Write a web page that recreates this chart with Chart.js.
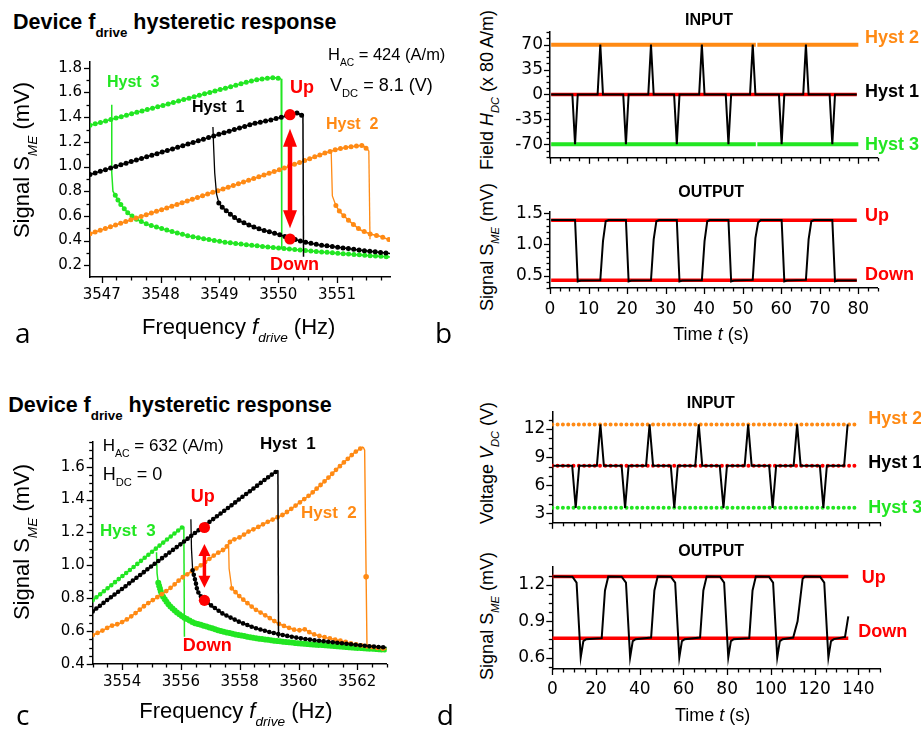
<!DOCTYPE html>
<html>
<head>
<meta charset="utf-8">
<script src="https://cdn.jsdelivr.net/npm/chart.js@4.4.1/dist/chart.umd.min.js"></script>
<style>
  body { margin: 0; width: 921px; height: 730px; background: #fff; position: relative; overflow: hidden;
         font-family: 'Liberation Sans', Arial, sans-serif; }
  canvas { position: absolute; }
  .t { position: absolute; white-space: pre; line-height: 1; color: #000; }
  .t.b { font-weight: bold; }
  .t sub { font-size: 0.62em; vertical-align: -0.58em; line-height: 0; }
  .t.rot { transform-origin: 0 0; transform: rotate(-90deg) translateX(-50%); }
  .t.letter { font-family: 'Open Sans', sans-serif; }
</style>
</head>
<body>
<canvas id="chartA"></canvas>
<canvas id="chartBin"></canvas>
<canvas id="chartBout"></canvas>
<canvas id="chartC"></canvas>
<canvas id="chartDin"></canvas>
<canvas id="chartDout"></canvas>
<script>
// ---------- panel a : frequency sweep, H_AC = 424 A/m ----------
const aHyst3UpF = [3546.8, 3547.0, 3547.2, 3547.4, 3547.6, 3547.8, 3548.0, 3548.2, 3548.4, 3548.6, 3548.8, 3549.0, 3549.2, 3549.4, 3549.6, 3549.8, 3549.95, 3550.05];
const aHyst3UpS = [1.335, 1.36, 1.387, 1.413, 1.44, 1.465, 1.49, 1.517, 1.543, 1.57, 1.596, 1.622, 1.648, 1.675, 1.70, 1.715, 1.72, 1.712];
const aHyst3DropF = [3550.05, 3550.06];
const aHyst3DropS = [1.712, 0.33];
const aHyst3JumpF = [3547.17, 3547.17, 3547.19, 3547.23];
const aHyst3JumpS = [1.50, 0.95, 0.80, 0.767];
const aHyst3LowF = [3547.23, 3547.31, 3547.45, 3547.6, 3547.8, 3548.0, 3548.2, 3548.5, 3548.8, 3549.1, 3549.5, 3550.0, 3550.5, 3551.0, 3551.5, 3551.9];
const aHyst3LowS = [0.767, 0.70, 0.62, 0.57, 0.527, 0.50, 0.472, 0.435, 0.41, 0.387, 0.364, 0.34, 0.318, 0.298, 0.28, 0.268];

const aHyst1UpF = [3546.8, 3547.2, 3547.6, 3548.0, 3548.4, 3548.8, 3549.2, 3549.6, 3549.9, 3550.2, 3550.33, 3550.42];
const aHyst1UpS = [0.935, 0.995, 1.055, 1.113, 1.172, 1.232, 1.292, 1.35, 1.38, 1.42, 1.435, 1.408];
const aHyst1DropF = [3550.42, 3550.43];
const aHyst1DropS = [1.408, 0.27];
const aHyst1JumpF = [3548.89, 3548.9, 3548.92, 3548.95, 3548.99];
const aHyst1JumpS = [1.32, 1.18, 0.95, 0.78, 0.705];
const aHyst1LowF = [3548.99, 3549.05, 3549.14, 3549.3, 3549.48, 3549.7, 3550.0, 3550.2, 3550.42, 3550.7, 3551.05, 3551.4, 3551.9];
const aHyst1LowS = [0.705, 0.67, 0.632, 0.57, 0.53, 0.49, 0.452, 0.42, 0.39, 0.365, 0.344, 0.322, 0.295];

const aHyst2UpF = [3546.8, 3547.2, 3547.6, 3548.0, 3548.4, 3548.8, 3549.2, 3549.6, 3550.0, 3550.4, 3550.8, 3551.0, 3551.2, 3551.44, 3551.54];
const aHyst2UpS = [0.455, 0.52, 0.585, 0.648, 0.712, 0.777, 0.84, 0.905, 0.97, 1.04, 1.11, 1.14, 1.158, 1.172, 1.128];
const aHyst2DropF = [3551.54, 3551.56];
const aHyst2DropS = [1.128, 0.41];
const aHyst2JumpF = [3550.9, 3550.92, 3550.98];
const aHyst2JumpS = [1.128, 0.762, 0.684];
const aHyst2LowF = [3550.98, 3551.05, 3551.22, 3551.39, 3551.56, 3551.73, 3551.9];
const aHyst2LowS = [0.684, 0.631, 0.553, 0.488, 0.453, 0.435, 0.405];

const aStateF = [3550.2, 3550.2];      // Up / Down operating points
const aStateS = [1.42, 0.413];

// ---------- panel b : field driven switching ----------
const bLevelT = [0.3, 53.4, 53.6, 53.8, 80];
const bHyst2Level = [70, 70, null, 70, 70];
const bHyst3Level = [-70, -70, null, -70, -70];
const bHyst1T = [0.3, 79.6];
const bHyst1Level = [0, 0];
const bInT = [0.3, 5.8, 6.5, 7.2, 12.35, 13.05, 13.75, 19.0, 19.7, 20.4, 25.5, 26.2, 26.9, 32.2, 32.9, 33.6, 38.7, 39.4, 40.1,
              45.6, 46.3, 47.0, 51.9, 52.6, 53.3, 59.4, 60.1, 60.8, 65.7, 66.4, 67.1, 72.55, 73.25, 73.95, 79.6];
const bInH = [0, 0, -70, 0, 0, 70, 0, 0, -70, 0, 0, 70, 0, 0, -70, 0, 0, 70, 0,
              0, -70, 0, 0, 70, 0, 0, -70, 0, 0, 70, 0, 0, -70, 0, 0];
const bOutT = [0.3, 6.5, 7.2, 8.0, 13.05, 13.75, 14.45, 15.2, 19.7, 20.4, 21.1, 26.2, 26.9, 27.6, 28.3, 32.9, 33.6, 34.3, 39.4, 40.1,
               40.8, 41.5, 46.3, 47.0, 47.7, 52.6, 53.3, 54.0, 54.7, 60.1, 60.8, 61.5, 66.4, 67.1, 67.8, 68.5, 73.25, 73.95, 74.6, 79.6];
const bOutS = [1.39, 1.39, 0.405, 0.42, 0.425, 1.05, 1.37, 1.39, 1.39, 0.405, 0.42, 0.425, 1.08, 1.37, 1.39, 1.39, 0.405, 0.42, 0.425, 1.05,
               1.37, 1.39, 1.39, 0.405, 0.42, 0.43, 1.10, 1.35, 1.39, 1.39, 0.405, 0.42, 0.43, 1.08, 1.37, 1.39, 1.39, 0.405, 0.42, 0.42];
const bStateT = [0.3, 79.6];
const bUpLevel = [1.387, 1.387];
const bDownLevel = [0.425, 0.425];

// ---------- panel c : frequency sweep, H_AC = 632 A/m ----------
const cHyst3UpF = [3553.0, 3553.5, 3554.0, 3554.5, 3555.0, 3555.5, 3556.0, 3556.08];
const cHyst3UpS = [0.787, 0.86, 0.933, 1.006, 1.08, 1.153, 1.225, 1.236];
const cHyst3DropF = [3556.1, 3556.12];
const cHyst3DropS = [1.236, 0.565];
const cHyst3JumpF = [3555.17, 3555.19, 3555.23];
const cHyst3JumpS = [1.08, 0.95, 0.894];
const cHyst3LowF = [3555.23, 3555.35, 3555.5, 3555.63, 3555.85, 3556.08, 3556.45, 3556.88, 3557.4, 3557.9, 3558.6, 3559.3, 3560.2, 3561.2, 3562.0, 3562.7, 3563.0];
const cHyst3LowS = [0.894, 0.82, 0.78, 0.752, 0.715, 0.685, 0.65, 0.627, 0.598, 0.578, 0.555, 0.539, 0.522, 0.51, 0.498, 0.49, 0.487];

const cHyst1UpF = [3553.0, 3553.5, 3554.0, 3554.5, 3555.0, 3555.5, 3556.0, 3556.5, 3557.0, 3557.5, 3558.0, 3558.5, 3559.0, 3559.3];
const cHyst1UpS = [0.72, 0.79, 0.857, 0.926, 0.995, 1.063, 1.13, 1.20, 1.268, 1.335, 1.404, 1.472, 1.54, 1.578];
const cHyst1DropF = [3559.3, 3559.32];
const cHyst1DropS = [1.578, 0.56];
const cHyst1JumpF = [3556.34, 3556.36, 3556.4];
const cHyst1JumpS = [1.28, 1.10, 0.97];
const cHyst1LowF = [3556.4, 3556.5, 3556.56, 3556.7, 3557.0, 3557.44, 3558.0, 3558.5, 3559.0, 3559.5, 3560.0, 3560.6, 3561.2, 3561.8, 3562.4, 3563.0];
const cHyst1LowS = [0.97, 0.90, 0.845, 0.805, 0.76, 0.704, 0.655, 0.62, 0.595, 0.575, 0.558, 0.543, 0.532, 0.52, 0.508, 0.50];

const cHyst2UpF = [3553.0, 3553.3, 3553.6, 3553.9, 3554.2, 3554.5, 3554.8, 3555.1, 3555.4, 3555.7, 3556.0, 3556.3, 3556.6, 3556.9, 3557.2, 3557.5, 3557.7,
                   3558.0, 3558.3, 3558.6, 3558.9, 3559.2, 3559.5, 3559.8, 3560.1, 3560.4, 3560.7, 3561.0, 3561.3, 3561.6, 3561.9, 3562.1, 3562.2];
const cHyst2UpS = [0.575, 0.60, 0.63, 0.645, 0.675, 0.715, 0.76, 0.795, 0.83, 0.87, 0.92, 0.955, 0.99, 1.03, 1.07, 1.10, 1.15,
                   1.17, 1.205, 1.23, 1.26, 1.285, 1.31, 1.35, 1.39, 1.43, 1.48, 1.53, 1.585, 1.635, 1.685, 1.71, 1.72];
const cHyst2DropF = [3562.2, 3562.25, 3562.3, 3562.33];
const cHyst2DropS = [1.72, 1.70, 0.93, 0.50];
const cHyst2JumpF = [3557.62, 3557.64, 3557.73];
const cHyst2JumpS = [1.15, 0.98, 0.86];
const cHyst2LowF = [3557.73, 3557.84, 3558.0, 3558.18, 3558.52, 3558.97, 3559.31, 3559.6, 3559.88, 3560.05, 3560.22, 3560.4, 3560.56, 3560.9, 3561.24, 3561.6, 3561.92, 3562.4, 3563.0];
const cHyst2LowS = [0.86, 0.84, 0.81, 0.782, 0.733, 0.685, 0.646, 0.625, 0.607, 0.605, 0.611, 0.59, 0.578, 0.562, 0.549, 0.534, 0.52, 0.505, 0.49];

const cStateF = [3556.8, 3556.8];
const cStateS = [1.23, 0.787];

// ---------- panel d : voltage driven switching ----------
const dLevelT = [0, 139.5];
const dHyst2Level = [12.5, 12.5];
const dHyst1Level = [8.1, 8.1];
const dHyst3Level = [3.6, 3.6];
const dInT = [0.5, 9.1, 10.7, 12.3, 20.4, 22.0, 23.6, 31.7, 33.3, 34.9, 42.9, 44.5, 46.1, 54.2, 55.8, 57.4, 65.4, 67.0, 68.6,
              76.6, 78.3, 79.9, 88.0, 89.6, 91.2, 99.2, 100.8, 102.4, 110.4, 112.0, 113.6, 122.4, 124.0, 125.6, 133.5, 135.1];
const dInV = [8.1, 8.1, 3.6, 8.1, 8.1, 12.5, 8.1, 8.1, 3.6, 8.1, 8.1, 12.5, 8.1, 8.1, 3.6, 8.1, 8.1, 12.5, 8.1,
              8.1, 3.6, 8.1, 8.1, 12.5, 8.1, 8.1, 3.6, 8.1, 8.1, 12.5, 8.1, 8.1, 3.6, 8.1, 8.1, 12.5];
const dOutT = [0.5, 9.2, 11.1, 13.0, 14.2, 15.5, 22.6, 24.1, 25.6, 31.7, 33.7, 35.6, 36.8, 38.1, 45.2, 46.7, 48.2,
               54.2, 56.2, 58.1, 59.3, 60.6, 67.6, 69.1, 70.6, 76.7, 78.6, 80.5, 81.7, 83.0, 90.1, 91.6, 93.1,
               99.1, 101.0, 102.9, 104.1, 105.4, 110.2, 112.2, 114.5, 115.5, 122.5, 124.4, 126.3, 127.5, 128.8, 133.9, 135.4];
const dOutS = [1.27, 1.268, 1.22, 0.60, 0.735, 0.752, 0.76, 1.155, 1.27, 1.268, 1.22, 0.60, 0.735, 0.752, 0.765, 1.155, 1.27,
               1.268, 1.22, 0.60, 0.735, 0.752, 0.765, 1.155, 1.27, 1.268, 1.22, 0.60, 0.735, 0.752, 0.76, 1.155, 1.27,
               1.268, 1.22, 0.60, 0.735, 0.752, 0.765, 0.90, 1.25, 1.27, 1.268, 1.22, 0.60, 0.735, 0.752, 0.77, 0.94];
const dStateT = [0, 135.4];
const dUpLevel = [1.27, 1.27];
const dDownLevel = [0.76, 0.76];

const GREEN = '#22e622', ORANGE = '#ff8a14', RED = '#ff0000', BLACK = '#000000';

function pts(xs, ys) { return xs.map((x, i) => ({ x: x, y: ys[i] })); }
function thin(xs, ys, color, w) {
  return { data: pts(xs, ys), borderColor: color, borderWidth: w || 1.3, pointRadius: 0 };
}
function beads(xs, ys, color, size, gap) {
  return { data: pts(xs, ys), borderColor: color, borderWidth: size, borderDash: [0, gap],
           borderCapStyle: 'round', pointRadius: 0 };
}
function branch(xs, ys, color, size, gap) {
  return [thin(xs, ys, color, 1.5), beads(xs, ys, color, size, gap)];
}
function dots(xs, ys, color, r) {
  return { data: pts(xs, ys), showLine: false, pointRadius: r, pointBackgroundColor: color, pointBorderWidth: 0 };
}

// outward major / minor ticks + optional double headed arrow
const axisTicks = {
  id: 'axisTicks',
  afterDatasetsDraw(chart, args, opts) {
    const ar = opts.arrow;
    if (!ar) return;
    const ctx = chart.ctx;
    ctx.save();
    const x = chart.scales.x.getPixelForValue(ar.x);
    const y1 = chart.scales.y.getPixelForValue(ar.y1);
    const y2 = chart.scales.y.getPixelForValue(ar.y2);
    ctx.strokeStyle = RED; ctx.fillStyle = RED; ctx.lineWidth = ar.w;
    ctx.beginPath(); ctx.moveTo(x, y1 + ar.head * 0.8); ctx.lineTo(x, y2 - ar.head * 0.8); ctx.stroke();
    ctx.beginPath(); ctx.moveTo(x, y1); ctx.lineTo(x - ar.half, y1 + ar.head); ctx.lineTo(x + ar.half, y1 + ar.head); ctx.closePath(); ctx.fill();
    ctx.beginPath(); ctx.moveTo(x, y2); ctx.lineTo(x - ar.half, y2 - ar.head); ctx.lineTo(x + ar.half, y2 - ar.head); ctx.closePath(); ctx.fill();
    ctx.restore();
  },
  afterDraw(chart, args, opts) {
    const ctx = chart.ctx;
    ctx.save();
    ctx.strokeStyle = '#000';
    ctx.lineWidth = 1.3;
    ['x', 'y'].forEach(id => {
      const o = opts[id];
      if (!o) return;
      const s = chart.scales[id];
      const k0 = Math.ceil(s.min / o.minor - 1e-6), k1 = Math.floor(s.max / o.minor + 1e-6);
      for (let k = k0; k <= k1; k++) {
        const v = k * o.minor;
        const major = Math.abs(v / o.major - Math.round(v / o.major)) < 1e-6;
        const len = major ? 6 : 3.5;
        const p = Math.round(s.getPixelForValue(v)) + 0.5;
        ctx.beginPath();
        if (id === 'x') { ctx.moveTo(p, s.top); ctx.lineTo(p, s.top + len); }
        else { ctx.moveTo(s.right, p); ctx.lineTo(s.right - len, p); }
        ctx.stroke();
      }
    });
    ctx.restore();
  }
};

function axis(c, size, dim) {
  return {
    type: 'linear', min: c.min, max: c.max,
    grid: { display: false, drawTicks: false },
    border: { display: true, color: '#000', width: 1.5 },
    ticks: {
      display: c.labels !== false, autoSkip: false, maxRotation: 0,
      padding: c.pad, color: '#000', font: { family: 'DejaVu Sans', size: c.font },
      callback: v => c.dec ? Number(v).toFixed(c.dec) : String(Math.round(v))
    },
    afterBuildTicks(s) {
      // labelled ticks only on multiples of the major step
      const t = [];
      for (let k = Math.ceil(c.min / c.major - 1e-6); k * c.major <= c.max + 1e-9; k++) {
        t.push({ value: +(k * c.major).toFixed(6) });
      }
      s.ticks = t;
    },
    afterFit(s) { if (dim === 'h') s.height = size; else s.width = size; }
  };
}

function makeChart(id, box, plot, xc, yc, sets, arrow) {
  const cv = document.getElementById(id);
  cv.width = box.r - box.l; cv.height = box.b - box.t;
  cv.style.left = box.l + 'px'; cv.style.top = box.t + 'px';
  return new Chart(cv, {
    type: 'line',
    data: { datasets: sets.flat().reverse() },
    options: {
      responsive: false, animation: false, devicePixelRatio: 1,
      layout: { autoPadding: false, padding: { top: plot.t - box.t, right: box.r - plot.r, left: 0, bottom: 0 } },
      plugins: {
        legend: { display: false }, tooltip: { enabled: false },
        axisTicks: { x: { major: xc.major, minor: xc.minor }, y: { major: yc.major, minor: yc.minor }, arrow: arrow }
      },
      scales: { x: axis(xc, box.b - plot.b, 'h'), y: axis(yc, plot.l - box.l, 'w') }
    },
    plugins: [axisTicks]
  });
}

// panel a (sets listed bottom -> top)
makeChart('chartA', { l: 30, t: 45, r: 400, b: 320 }, { l: 90, t: 55, r: 390, b: 277 },
  { min: 3546.8, max: 3551.9, major: 1, minor: 0.25, pad: 9, font: 15 },
  { min: 0.105, max: 1.847, major: 0.2, minor: 0.1, pad: 8, font: 15, dec: 1 },
  [
    branch(aHyst3UpF, aHyst3UpS, GREEN, 5, 5.4), thin(aHyst3DropF, aHyst3DropS, GREEN, 1.5),
    thin(aHyst3JumpF, aHyst3JumpS, GREEN, 1.5), branch(aHyst3LowF, aHyst3LowS, GREEN, 5, 5.4),
    branch(aHyst2UpF, aHyst2UpS, ORANGE, 5, 5.4), thin(aHyst2DropF, aHyst2DropS, ORANGE, 1.3),
    thin(aHyst2JumpF, aHyst2JumpS, ORANGE, 1.3), branch(aHyst2LowF, aHyst2LowS, ORANGE, 5, 6.5),
    branch(aHyst1UpF, aHyst1UpS, BLACK, 5, 5.4), thin(aHyst1DropF, aHyst1DropS, BLACK, 1.5),
    thin(aHyst1JumpF, aHyst1JumpS, BLACK, 1.3), branch(aHyst1LowF, aHyst1LowS, BLACK, 5, 5.4),
    dots(aStateF, aStateS, RED, 5.6)
  ],
  { x: 3550.2, y1: 1.306, y2: 0.50, w: 4.5, head: 18, half: 7 });

makeChart('chartBin', { l: 505, t: 15, r: 885, b: 175 }, { l: 550, t: 25, r: 877.6, b: 160 },
  { min: 0, max: 85, major: 10, minor: 2.5, labels: false, pad: 4, font: 17 },
  { min: -89, max: 87.5, major: 35, minor: 8.75, pad: 7, font: 17 },
  [
    thin(bLevelT, bHyst2Level, ORANGE, 4), thin(bLevelT, bHyst3Level, GREEN, 4),
    thin(bHyst1T, bHyst1Level, RED, 3.5), thin(bInT, bInH, BLACK, 2)
  ]);

makeChart('chartBout', { l: 505, t: 195, r: 885, b: 320 }, { l: 550, t: 201.7, r: 877.6, b: 288 },
  { min: 0, max: 85, major: 10, minor: 2.5, pad: 11, font: 17 },
  { min: 0.3, max: 1.515, major: 0.5, minor: 0.1, pad: 7, font: 17, dec: 1 },
  [
    thin(bStateT, bUpLevel, RED, 3.5), thin(bStateT, bDownLevel, RED, 3.5), thin(bOutT, bOutS, BLACK, 2)
  ]);

makeChart('chartC', { l: 30, t: 425, r: 400, b: 700 }, { l: 92.7, t: 431.7, r: 386.7, b: 664 },
  { min: 3553, max: 3563, major: 2, minor: 0.5, pad: 9, font: 15 },
  { min: 0.4, max: 1.75, major: 0.2, minor: 0.05, pad: 8, font: 15, dec: 1 },
  [
    branch(cHyst3UpF, cHyst3UpS, GREEN, 4.6, 4.8), thin(cHyst3DropF, cHyst3DropS, GREEN, 1.5),
    thin(cHyst3JumpF, cHyst3JumpS, GREEN, 1.5), branch(cHyst3LowF, cHyst3LowS, GREEN, 6, 3),
    branch(cHyst2UpF, cHyst2UpS, ORANGE, 4.8, 5.4), thin(cHyst2DropF, cHyst2DropS, ORANGE, 1.4),
    dots([cHyst2DropF[2]], [cHyst2DropS[2]], ORANGE, 2.8),
    thin(cHyst2JumpF, cHyst2JumpS, ORANGE, 1.3), branch(cHyst2LowF, cHyst2LowS, ORANGE, 4.8, 5.4),
    branch(cHyst1UpF, cHyst1UpS, BLACK, 4.6, 4.6), thin(cHyst1DropF, cHyst1DropS, BLACK, 1.5),
    thin(cHyst1JumpF, cHyst1JumpS, BLACK, 1.3), branch(cHyst1LowF, cHyst1LowS, BLACK, 4.6, 4.6),
    dots(cStateF, cStateS, RED, 5.6)
  ],
  { x: 3556.8, y1: 1.13, y2: 0.863, w: 3.5, head: 12, half: 6 });

makeChart('chartDin', { l: 505, t: 395, r: 885, b: 540 }, { l: 552.3, t: 405, r: 880.2, b: 523.3 },
  { min: 0, max: 150, major: 20, minor: 5, labels: false, pad: 4, font: 17 },
  { min: 2, max: 13.8, major: 3, minor: 1, pad: 7, font: 17 },
  [
    beads(dLevelT, dHyst2Level, ORANGE, 4, 5.3), beads(dLevelT, dHyst3Level, GREEN, 4, 5.3),
    beads(dLevelT, dHyst1Level, RED, 4, 5.3), thin(dInT, dInV, BLACK, 2)
  ]);

makeChart('chartDout', { l: 505, t: 550, r: 885, b: 700 }, { l: 552.3, t: 560, r: 880.2, b: 669 },
  { min: 0, max: 150, major: 20, minor: 5, pad: 10, font: 17 },
  { min: 0.505, max: 1.347, major: 0.3, minor: 0.075, pad: 7, font: 17, dec: 1 },
  [
    thin(dStateT, dUpLevel, RED, 3.5), thin(dStateT, dDownLevel, RED, 3.5), thin(dOutT, dOutS, BLACK, 2)
  ]);

// ---------- text (real DOM text) ----------
function addText(html, left, baseline, size, cls, color) {
  const d = document.createElement('div');
  d.className = 't' + (cls ? ' ' + cls : '');
  d.innerHTML = html;
  d.style.fontSize = size + 'px';
  d.style.left = left + 'px';
  const k = (cls && cls.indexOf('letter') >= 0) ? 0.888 : 0.8465;
  d.style.top = (baseline - k * size) + 'px';
  if (color) d.style.color = color;
  document.body.appendChild(d);
}
function yTitle(html, baselineX, centerY, size) {
  const d = document.createElement('div');
  d.className = 't rot';
  d.innerHTML = html;
  d.style.fontSize = size + 'px';
  d.style.left = (baselineX - 0.8465 * size) + 'px';
  d.style.top = centerY + 'px';
  document.body.appendChild(d);
}

// panel a
addText('Device f<sub>drive</sub> hysteretic response', 13, 30, 21.5, 'b');
addText('H<sub>AC</sub> = 424 (A/m)', 328, 60, 16.5);
addText('V<sub>DC</sub> = 8.1 (V)', 330, 91.7, 18);
addText('Hyst  3', 107, 87.3, 16, 'b', GREEN);
addText('Hyst  1', 192, 112.3, 16, 'b');
addText('Hyst  2', 326, 130, 16, 'b', ORANGE);
addText('Up', 290, 93.3, 18, 'b', RED);
addText('Down', 270, 270, 18, 'b', RED);
yTitle('Signal S<sub><i>ME</i></sub> (mV)', 29.3, 160, 22);
addText('Frequency <i>f</i><sub><i>drive</i></sub> (Hz)', 142, 334.3, 22);
addText('a', 15, 342.7, 28, 'letter');
addText('b', 435, 342.7, 28, 'letter');

// panel b
addText('INPUT', 685, 26, 16, 'b');
addText('OUTPUT', 678.3, 197.3, 16, 'b');
addText('Hyst 2', 865, 43.3, 18, 'b', ORANGE);
addText('Hyst 1', 865, 97.3, 18, 'b');
addText('Hyst 3', 865, 150, 18, 'b', GREEN);
addText('Up', 865, 221.7, 18, 'b', RED);
addText('Down', 865, 280.7, 18, 'b', RED);
yTitle('Field <i>H</i><sub><i>DC</i></sub> (x 80 A/m)', 493.3, 90, 18);
yTitle('Signal S<sub><i>ME</i></sub> (mV)', 493.3, 247, 18);
addText('Time <i>t</i> (s)', 673.3, 340, 18);

// panel c
addText('Device f<sub>drive</sub> hysteretic response', 8.3, 412.7, 21.5, 'b');
addText('H<sub>AC</sub> = 632 (A/m)', 102.7, 451.7, 17);
addText('H<sub>DC</sub> = 0', 102.7, 480, 18);
addText('Hyst  1', 260, 449.3, 17, 'b');
addText('Up', 190.7, 502.7, 18, 'b', RED);
addText('Hyst  2', 301, 518.3, 17, 'b', ORANGE);
addText('Hyst  3', 100, 536, 17, 'b', GREEN);
addText('Down', 182.7, 651.7, 18, 'b', RED);
yTitle('Signal S<sub><i>ME</i></sub> (mV)', 30, 541.7, 22);
addText('Frequency <i>f</i><sub><i>drive</i></sub> (Hz)', 139.3, 718.3, 22);
addText('c', 16, 725, 28, 'letter');
addText('d', 436.7, 725, 28, 'letter');

// panel d
addText('INPUT', 686.7, 408.3, 16, 'b');
addText('OUTPUT', 678.3, 556.7, 16, 'b');
addText('Hyst 2', 868.3, 424, 18, 'b', ORANGE);
addText('Hyst 1', 868.3, 468.3, 18, 'b');
addText('Hyst 3', 868.3, 513.3, 18, 'b', GREEN);
addText('Up', 861.7, 583.3, 18, 'b', RED);
addText('Down', 858.3, 637.7, 18, 'b', RED);
yTitle('Voltage <i>V</i><sub><i>DC</i></sub> (V)', 493.3, 463.3, 18);
yTitle('Signal S<sub><i>ME</i></sub> (mV)', 493.3, 616, 18);
addText('Time <i>t</i> (s)', 675, 721.7, 18);
</script>
</body>
</html>
